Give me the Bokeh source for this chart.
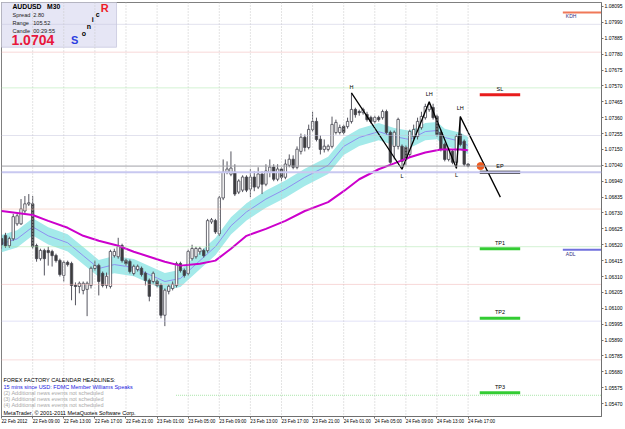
from bokeh.plotting import figure
from bokeh.models import ColumnDataSource, Range1d, FixedTicker, PrintfTickFormatter, Span, Label
from bokeh.embed import file_html
from bokeh.resources import INLINE

FONT = "Liberation Sans"

# ---------------- data (AUDUSD M30) ----------------
bar_index = list(range(121))
open_ = [1.06559, 1.06579, 1.06513, 1.06559, 1.06658, 1.06658, 1.06743, 1.06789, 1.06789, 1.06513,
         1.06428, 1.06481, 1.06481, 1.06474, 1.06448, 1.06415, 1.06317, 1.06402, 1.06395, 1.06251,
         1.06244, 1.06218, 1.06225, 1.06251, 1.06363, 1.06382, 1.06330, 1.06251, 1.06244, 1.06448,
         1.06441, 1.06513, 1.06415, 1.06408, 1.06330, 1.06356, 1.06363, 1.06330, 1.06284, 1.06277,
         1.06277, 1.06251, 1.06054, 1.06212, 1.06231, 1.06251, 1.06395, 1.06349, 1.06330, 1.06428,
         1.06441, 1.06474, 1.06481, 1.06481, 1.06671, 1.06678, 1.06592, 1.06829, 1.06999, 1.06986,
         1.06999, 1.06868, 1.06881, 1.06966, 1.06888, 1.06966, 1.06901, 1.06986, 1.06920, 1.06999,
         1.07032, 1.06953, 1.07019, 1.06966, 1.07045, 1.07084, 1.07032, 1.07137, 1.07229, 1.07163,
         1.07281, 1.07334, 1.07216, 1.07150, 1.07150, 1.07170, 1.07262, 1.07262, 1.07301, 1.07301,
         1.07334, 1.07413, 1.07399, 1.07393, 1.07380, 1.07360, 1.07334, 1.07360, 1.07360, 1.07399,
         1.07262, 1.07170, 1.07170, 1.07170, 1.07163, 1.07117, 1.07235, 1.07235, 1.07294, 1.07360,
         1.07413, 1.07426, 1.07367, 1.07262, 1.07183, 1.07084, 1.07137, 1.07065, 1.07249, 1.07203,
         1.07052]
high = [1.06586, 1.06599, 1.06573, 1.06724, 1.06724, 1.06822, 1.06842, 1.06855, 1.06842, 1.06527,
        1.06494, 1.06494, 1.06507, 1.06487, 1.06461, 1.06428, 1.06415, 1.06415, 1.06408, 1.06271,
        1.06277, 1.06277, 1.06277, 1.06376, 1.06415, 1.06395, 1.06343, 1.06336, 1.06487, 1.06494,
        1.06566, 1.06527, 1.06428, 1.06422, 1.06389, 1.06389, 1.06376, 1.06343, 1.06297, 1.06343,
        1.06290, 1.06264, 1.06231, 1.06258, 1.06277, 1.06408, 1.06408, 1.06363, 1.06487, 1.06520,
        1.06507, 1.06507, 1.06494, 1.06691, 1.06697, 1.06691, 1.06842, 1.07084, 1.07071, 1.07137,
        1.07052, 1.06953, 1.06979, 1.06979, 1.07019, 1.07006, 1.07032, 1.07006, 1.07052, 1.07084,
        1.07052, 1.07052, 1.07032, 1.07084, 1.07117, 1.07111, 1.07170, 1.07255, 1.07249, 1.07314,
        1.07399, 1.07360, 1.07242, 1.07216, 1.07183, 1.07367, 1.07347, 1.07314, 1.07314, 1.07360,
        1.07524, 1.07426, 1.07413, 1.07426, 1.07399, 1.07373, 1.07373, 1.07373, 1.07413, 1.07413,
        1.07275, 1.07275, 1.07360, 1.07183, 1.07176, 1.07281, 1.07314, 1.07360, 1.07399, 1.07452,
        1.07465, 1.07452, 1.07380, 1.07281, 1.07196, 1.07163, 1.07150, 1.07249, 1.07367, 1.07216,
        1.07058]
low = [1.06494, 1.06500, 1.06500, 1.06546, 1.06645, 1.06651, 1.06730, 1.06776, 1.06494, 1.06408,
       1.06415, 1.06317, 1.06382, 1.06376, 1.06402, 1.06310, 1.06277, 1.06376, 1.06153, 1.06120,
       1.06199, 1.06192, 1.06048, 1.06231, 1.06349, 1.06185, 1.06238, 1.06231, 1.06231, 1.06435,
       1.06428, 1.06402, 1.06382, 1.06330, 1.06317, 1.06343, 1.06310, 1.06251, 1.06146, 1.06264,
       1.06238, 1.06034, 1.05982, 1.06192, 1.06218, 1.06238, 1.06336, 1.06303, 1.06317, 1.06415,
       1.06428, 1.06454, 1.06435, 1.06468, 1.06658, 1.06592, 1.06579, 1.06815, 1.06986, 1.06973,
       1.06842, 1.06855, 1.06868, 1.06868, 1.06835, 1.06874, 1.06888, 1.06855, 1.06907, 1.06966,
       1.06940, 1.06940, 1.06940, 1.06953, 1.07032, 1.07019, 1.07019, 1.07117, 1.07137, 1.07150,
       1.07268, 1.07203, 1.07117, 1.07130, 1.07137, 1.07157, 1.07249, 1.07249, 1.07249, 1.07288,
       1.07321, 1.07360, 1.07373, 1.07380, 1.07334, 1.07321, 1.07321, 1.07334, 1.07347, 1.07249,
       1.07052, 1.07084, 1.07150, 1.07019, 1.07045, 1.07098, 1.07216, 1.07216, 1.07281, 1.07347,
       1.07399, 1.07347, 1.07235, 1.07137, 1.07071, 1.07071, 1.07052, 1.07025, 1.07170, 1.07039,
       1.07032]
close = [1.06520, 1.06513, 1.06559, 1.06704, 1.06710, 1.06756, 1.06789, 1.06796, 1.06507, 1.06428,
         1.06481, 1.06428, 1.06468, 1.06448, 1.06415, 1.06323, 1.06402, 1.06389, 1.06251, 1.06244,
         1.06264, 1.06264, 1.06264, 1.06363, 1.06382, 1.06277, 1.06251, 1.06310, 1.06474, 1.06474,
         1.06507, 1.06415, 1.06395, 1.06343, 1.06376, 1.06376, 1.06323, 1.06284, 1.06179, 1.06330,
         1.06251, 1.06054, 1.06218, 1.06244, 1.06258, 1.06395, 1.06349, 1.06317, 1.06474, 1.06494,
         1.06494, 1.06494, 1.06448, 1.06678, 1.06684, 1.06605, 1.06829, 1.06999, 1.07019, 1.07025,
         1.06855, 1.06940, 1.06966, 1.06881, 1.06966, 1.06901, 1.06986, 1.06920, 1.07006, 1.07032,
         1.06953, 1.07019, 1.06966, 1.07052, 1.07084, 1.07032, 1.07150, 1.07229, 1.07163, 1.07281,
         1.07334, 1.07216, 1.07150, 1.07170, 1.07170, 1.07314, 1.07327, 1.07294, 1.07262, 1.07334,
         1.07413, 1.07380, 1.07393, 1.07413, 1.07347, 1.07334, 1.07360, 1.07347, 1.07399, 1.07262,
         1.07065, 1.07262, 1.07347, 1.07071, 1.07084, 1.07268, 1.07281, 1.07334, 1.07367, 1.07432,
         1.07445, 1.07360, 1.07249, 1.07150, 1.07084, 1.07150, 1.07065, 1.07235, 1.07183, 1.07052,
         1.07040]

# Sonic R "dragon" band (EMA high / EMA low / EMA close) read at sample bars
dragon_bars = [0, 4, 8, 12, 17, 21, 25, 29, 34, 38, 42, 46, 51, 55, 59, 63, 68, 73, 78, 84,
               88, 92, 97, 101, 105, 109, 112, 114, 118, 120]
dragon_mid = [1.06527, 1.06559, 1.06638, 1.06579, 1.06533, 1.06448, 1.06363, 1.06389, 1.06369, 1.06323,
              1.06277, 1.06297, 1.06415, 1.06507, 1.06645, 1.06737, 1.06822, 1.06888, 1.06966, 1.07045,
              1.07170, 1.07229, 1.07268, 1.07235, 1.07216, 1.07268, 1.07275, 1.07229, 1.07203, 1.07176]
dragon_high = [1.06584, 1.06616, 1.06695, 1.06636, 1.06590, 1.06505, 1.06420, 1.06446, 1.06426, 1.06380,
               1.06334, 1.06354, 1.06472, 1.06564, 1.06702, 1.06794, 1.06879, 1.06945, 1.07023, 1.07102,
               1.07227, 1.07286, 1.07325, 1.07292, 1.07273, 1.07325, 1.07332, 1.07286, 1.07260, 1.07233]
dragon_low = [1.06470, 1.06502, 1.06581, 1.06522, 1.06476, 1.06391, 1.06306, 1.06332, 1.06312, 1.06266,
              1.06220, 1.06240, 1.06358, 1.06450, 1.06588, 1.06680, 1.06765, 1.06831, 1.06909, 1.06988,
              1.07113, 1.07172, 1.07211, 1.07178, 1.07159, 1.07211, 1.07218, 1.07172, 1.07146, 1.07119]

# slow trend MA (magenta)
trend_bars = [0, 8, 12, 17, 21, 25, 30, 34, 38, 42, 46, 51, 55, 59, 63, 68, 73, 78, 84, 88,
              92, 97, 101, 105, 109, 113, 118, 120]
trend_ma = [1.06743, 1.06717, 1.06678, 1.06632, 1.06579, 1.06546, 1.06513, 1.06474, 1.06441, 1.06408,
            1.06382, 1.06395, 1.06415, 1.06494, 1.06579, 1.06625, 1.06678, 1.06743, 1.06802, 1.06874,
            1.06953, 1.07019, 1.07058, 1.07098, 1.07130, 1.07150, 1.07150, 1.07144]

# wave pivots (zigzag) and projection
zz_bars = [90, 103, 110, 117, 118, 128.3]
zz_price = [1.07524, 1.07019, 1.07465, 1.07025, 1.07367, 1.06835]
zz_labels = ["H", "L", "LH", "L", "LH"]

# trade plan levels
trade_names = ["SL", "EP", "TP1", "TP2", "TP3"]
trade_levels = [1.07511, 1.06999, 1.06494, 1.06034, 1.05542]
trade_colors = ["#e81c1c", "#000000", "#33cc33", "#33cc33", "#33cc33"]
trade_from, trade_to = 123.0, 133.4

# key daily levels
kdh_level = 1.08056
adl_level = 1.06487

# horizontal level lines (price, colour)
level_prices = [1.07977, 1.07793, 1.07557, 1.07242, 1.06756, 1.06507, 1.06258, 1.06015, 1.05759]
level_colors = ["#c4c4dc", "#f0b0b0", "#a8e4a8", "#c4c4dc", "#f0b8a8", "#a8e4a8", "#f0b0b0", "#c4c4ee", "#f0b8b8"]
green_low_level = 1.05525
pivot_level = 1.06999
bid = 1.07040

# axes
time_ticks = list(range(0, 121, 8))
time_labels = ["22 Feb 2012", "22 Feb 09:00", "22 Feb 13:00", "22 Feb 17:00", "22 Feb 21:00",
               "23 Feb 01:00", "23 Feb 05:00", "23 Feb 09:00", "23 Feb 13:00", "23 Feb 17:00",
               "23 Feb 21:00", "24 Feb 01:00", "24 Feb 05:00", "24 Feb 09:00", "24 Feb 13:00",
               "24 Feb 17:00"]
price_ticks = [1.05365, 1.05470, 1.05575, 1.05680, 1.05785, 1.05890, 1.05995, 1.06100, 1.06205,
               1.06310, 1.06415, 1.06520, 1.06625, 1.06730, 1.06835, 1.06940, 1.07045, 1.07150,
               1.07255, 1.07360, 1.07465, 1.07570, 1.07675, 1.07780, 1.07885, 1.07990, 1.08095]
price_tag = {1.07045: "1.07040"}

# ---------------- layout helpers ----------------
W, H = 625, 429
FL, FT, FR, FB = 1, 2, 606, 419          # frame edges in pixels
PXB = 3.92                               # pixels per bar
X0 = -0.02
PPY = 0.000065625                        # price per pixel
TOPP = 1.081344


def bx(px):
    return X0 + (px - FL) / PXB


def py(yy):
    return TOPP - PPY * yy


p = figure(width=W, height=H, output_backend="svg", toolbar_location=None,
           x_range=Range1d(bx(FL), bx(FR)), y_range=Range1d(py(FB), py(FT)),
           y_axis_location="right", min_border_left=FL, min_border_top=FT,
           min_border_right=W - FR, min_border_bottom=H - FB)
p.background_fill_color = "white"
p.border_fill_color = "white"
p.outline_line_color = "#808080"
p.grid.visible = False

# vertical dotted grid
for t in time_ticks[1:]:
    p.add_layout(Span(location=t, dimension="height", line_color="#c8c8c8",
                      line_dash="1 2", line_width=1))

# horizontal level lines
for lv, col in zip(level_prices, level_colors):
    p.add_layout(Span(location=lv, dimension="width", line_color=col, line_dash="1 1", line_width=1))
p.line([bx(177), bx(FR)], [green_low_level, green_low_level], line_color="#a8e4a8",
       line_dash="1 1", line_width=1)
p.add_layout(Span(location=pivot_level, dimension="width", line_color="#c8c8f0", line_width=2))
p.add_layout(Span(location=bid, dimension="width", line_color="#a0a0a8", line_width=1))

# dragon band
p.varea(x=dragon_bars, y1=dragon_low, y2=dragon_high, fill_color="#a4eaea", fill_alpha=1)
p.line(dragon_bars, dragon_mid, line_color="#8f8ff0", line_width=1)

# candles
inc = [c >= o for o, c in zip(open_, close)]
src = ColumnDataSource(dict(
    x=bar_index, o=open_, h=high, l=low, c=close,
    top=[max(o, c) + 0.000015 for o, c in zip(open_, close)],
    bot=[min(o, c) for o, c in zip(open_, close)],
    fill=["#ffffff" if u else "#3c3c3c" for u in inc],
))
p.segment(x0="x", y0="l", x1="x", y1="h", source=src, line_color="#55555f", line_width=1)
p.vbar(x="x", width=0.62, top="top", bottom="bot", source=src, fill_color="fill",
       line_color="#45454f", line_width=0.8)

# trend MA
p.line(trend_bars, trend_ma, line_color="#cc00cc", line_width=2)

# zigzag
p.line(zz_bars, zz_price, line_color="#000000", line_width=1.3)
lab_off = [6, -7, 8, -7, 9]
for b, pr, t, o in zip(zz_bars, zz_price, zz_labels, lab_off):
    p.add_layout(Label(x=b, y=pr + o * PPY, text=t, text_font=FONT, text_font_size="5.5px",
                       text_color="#000000", text_align="center", text_baseline="middle"))

# trade levels
for nm, lv, col in zip(trade_names, trade_levels, trade_colors):
    p.line([trade_from, trade_to], [lv, lv], line_color=col, line_width=3)
    p.add_layout(Label(x=(trade_from + trade_to) / 2, y=lv + 6 * PPY, text=nm, text_font=FONT,
                       text_font_size="5.5px", text_color="#000000", text_align="center",
                       text_baseline="middle"))
p.scatter([123.2], [bid], size=7, fill_color="#f05a1e", line_color="#f05a1e")

# KDH / ADL
p.line([bx(567), bx(FR)], [kdh_level, kdh_level], line_color="#f07858", line_width=2)
p.line([bx(567), bx(FR)], [adl_level, adl_level], line_color="#7070dd", line_width=2)
p.add_layout(Label(x=bx(570), y=kdh_level - 4 * PPY, text="KDH", text_font=FONT, text_font_size="5px",
                   text_color="#303080", text_baseline="middle"))
p.add_layout(Label(x=bx(570), y=adl_level - 4 * PPY, text="ADL", text_font=FONT, text_font_size="5px",
                   text_color="#303080", text_baseline="middle"))

# info panel
p.quad(left=bx(FL), right=bx(117), top=py(FT), bottom=py(47), fill_color="#e6e6f5",
       line_color="#d0d0e4")


def txt(px, yy, s, size, color="#000000", bold=False):
    p.add_layout(Label(x=bx(px), y=py(yy), text=s, text_font=FONT, text_font_size=size,
                       text_color=color, text_baseline="middle",
                       text_font_style="bold" if bold else "normal"))


txt(12, 6.5, "AUDUSD", "6.8px", bold=True)
txt(47, 6.5, "M30", "6.8px", bold=True)
txt(12, 15, "Spread", "5.6px", "#222222")
txt(33, 15, "2.80", "5.6px", "#222222")
txt(12, 23, "Range", "5.6px", "#222222")
txt(33, 23, "105.52", "5.6px", "#222222")
txt(12, 31, "Candle", "5.6px", "#222222")
txt(33, 31, "00:29:55", "5.6px", "#222222")
txt(11, 40, "1.0704", "14px", "#e8173c", bold=True)
txt(71, 40, "S", "11px", "#2b3ee0", bold=True)
txt(82, 33, "o", "7px", "#000000", bold=True)
txt(87, 26, "n", "7px", "#000000", bold=True)
txt(92, 19, "i", "7px", "#000000", bold=True)
txt(96, 14, "c", "7px", "#000000", bold=True)
txt(101, 8, "R", "11px", "#ee1c24", bold=True)

# news block
txt(3, 382, "FOREX FACTORY CALENDAR HEADLINES:", "5.5px", "#000000")
txt(3, 389, "15 mins since USD: FDMC Member Williams Speaks", "5.5px", "#2020e0")
txt(3, 395.5, "(2) Additional news events not scheduled", "5.5px", "#a8a8a8")
txt(3, 401.5, "(3) Additional news events not scheduled", "5.5px", "#a8a8a8")
txt(3, 407.5, "(4) Additional news events not scheduled", "5.5px", "#a8a8a8")
txt(3, 415, "MetaTrader, \u00a9 2001-2011 MetaQuotes Software Corp.", "5.5px", "#000000")

# axes
p.xaxis.ticker = FixedTicker(ticks=time_ticks)
p.xaxis.major_label_overrides = {t: s for t, s in zip(time_ticks, time_labels)}
p.yaxis.ticker = FixedTicker(ticks=price_ticks)
p.yaxis.formatter = PrintfTickFormatter(format="%.5f")
p.yaxis.major_label_overrides = price_tag
for ax in (p.xaxis[0], p.yaxis[0]):
    ax.axis_line_color = "#707070"
    ax.major_tick_line_color = "#707070"
    ax.major_tick_out = 2
    ax.major_tick_in = 0
    ax.minor_tick_out = 0
    ax.minor_tick_in = 0
    ax.major_label_standoff = 1
    ax.major_label_text_font = FONT
    ax.major_label_text_color = "#000000"
p.yaxis.major_label_text_font_size = "5px"
p.xaxis.major_label_text_font_size = "4.6px"
p.xaxis.major_label_orientation = -0.0001
p.xaxis.major_label_standoff = 3

open("out.html", "w").write(file_html(p, INLINE))
